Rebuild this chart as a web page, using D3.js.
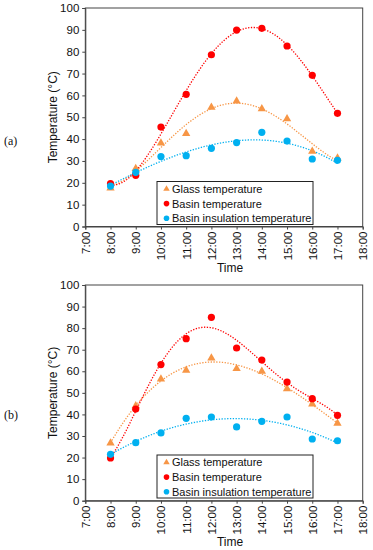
<!DOCTYPE html>
<html>
<head>
<meta charset="utf-8">
<script src="https://cdn.jsdelivr.net/npm/d3@7"></script>
<style>
  body { margin: 0; background: #fff; }
  svg { display: block; }
</style>
</head>
<body>
<div id="chart"></div>
<script>
// hours on the x axis
var hours = [8, 9, 10, 11, 12, 13, 14, 15, 16, 17];
var xTicks = [7, 8, 9, 10, 11, 12, 13, 14, 15, 16, 17, 18];
var yTicks = [0, 10, 20, 30, 40, 50, 60, 70, 80, 90, 100];

// panel (a)
var glassA = [17.6, 26.5, 38.2, 42.5, 54.5, 57.4, 53.9, 49.3, 34.4, 31.3];
var basinA = [19.6, 23.4, 45.5, 60.5, 78.6, 89.9, 90.7, 82.6, 69.2, 51.8];
var insulA = [18.5, 24.8, 32.0, 32.4, 35.8, 38.4, 43.1, 39.1, 30.9, 30.3];

// panel (b)
var glassB = [26.7, 44.0, 56.4, 60.4, 66.1, 61.2, 60.0, 51.9, 44.8, 35.9];
var basinB = [19.8, 42.5, 63.1, 75.1, 85.0, 70.8, 65.2, 55.0, 47.3, 39.6];
var insulB = [21.5, 26.9, 31.4, 38.2, 38.8, 34.2, 36.8, 38.8, 28.6, 27.8];

var seriesNames = ["Glass temperature", "Basin temperature", "Basin insulation temperature"];
var colors = ["#F79646", "#FF0000", "#00B0F0"];

var W = 373, H = 550;
var svg = d3.select("#chart").append("svg")
    .attr("width", W).attr("height", H);

// least squares polynomial fit (like an Excel trendline)
function polyfit(xs, ys, order) {
    var n = order + 1;
    var A = [], b = [];
    for (var i = 0; i < n; i++) {
        A.push(new Array(n).fill(0));
        b.push(0);
    }
    xs.forEach(function(x, k) {
        var t = x - 12;
        for (var i = 0; i < n; i++) {
            for (var j = 0; j < n; j++) A[i][j] += Math.pow(t, i + j);
            b[i] += ys[k] * Math.pow(t, i);
        }
    });
    // gaussian elimination
    for (var c = 0; c < n; c++) {
        var p = c;
        for (var r = c + 1; r < n; r++) if (Math.abs(A[r][c]) > Math.abs(A[p][c])) p = r;
        var tmp = A[c]; A[c] = A[p]; A[p] = tmp;
        var tb = b[c]; b[c] = b[p]; b[p] = tb;
        for (var r = c + 1; r < n; r++) {
            var f = A[r][c] / A[c][c];
            for (var j = c; j < n; j++) A[r][j] -= f * A[c][j];
            b[r] -= f * b[c];
        }
    }
    var coef = new Array(n).fill(0);
    for (var i = n - 1; i >= 0; i--) {
        var s = b[i];
        for (var j = i + 1; j < n; j++) s -= A[i][j] * coef[j];
        coef[i] = s / A[i][i];
    }
    return function(x) {
        var t = x - 12, v = 0;
        for (var i = 0; i < n; i++) v += coef[i] * Math.pow(t, i);
        return v;
    };
}

function drawPanel(top, bottom, label, labelY, series, orders, legendTop) {
    var left = 85.3, right = 362.7;
    var x = d3.scaleLinear().domain([7, 18]).range([left, right]);
    var y = d3.scaleLinear().domain([0, 100]).range([bottom, top]);
    var g = svg.append("g");

    // plot frame
    g.append("rect")
        .attr("x", left).attr("y", top)
        .attr("width", right - left).attr("height", bottom - top)
        .attr("fill", "none").attr("stroke", "#444").attr("stroke-width", 1);

    var xAxis = g.append("g")
        .attr("transform", "translate(0," + bottom + ")")
        .call(d3.axisBottom(x).tickValues(xTicks).tickSize(3)
            .tickFormat(function(d) { return d + ":00"; }));
    xAxis.selectAll("text")
        .attr("transform", "rotate(-90)")
        .attr("x", -5).attr("y", 0).attr("dy", "0.35em")
        .style("text-anchor", "end");

    var yAxis = g.append("g")
        .attr("transform", "translate(" + left + ",0)")
        .call(d3.axisLeft(y).tickValues(yTicks).tickSize(3).tickPadding(3));

    [xAxis, yAxis].forEach(function(a) {
        a.select(".domain").attr("stroke", "#444");
        a.selectAll("line").attr("stroke", "#444");
        a.selectAll("text").attr("font-family", "Liberation Sans, Arial, sans-serif")
            .attr("font-size", 11.5).attr("fill", "#111");
    });

    g.append("text")
        .attr("transform", "translate(57," + ((top + bottom) / 2) + ") rotate(-90)")
        .attr("text-anchor", "middle")
        .attr("font-family", "Liberation Sans, Arial, sans-serif")
        .attr("font-size", 12).attr("fill", "#111")
        .text("Temperature (\u00B0C)");

    g.append("text")
        .attr("x", 230).attr("y", bottom + 45)
        .attr("text-anchor", "middle")
        .attr("font-family", "Liberation Sans, Arial, sans-serif")
        .attr("font-size", 12).attr("fill", "#111")
        .text("Time");

    g.append("text")
        .attr("x", 4).attr("y", labelY)
        .attr("font-family", "Liberation Serif, Times New Roman, serif")
        .attr("font-size", 12).attr("fill", "#111")
        .text(label);

    // trendlines
    var line = d3.line().x(function(d) { return x(d[0]); }).y(function(d) { return y(d[1]); });
    series.forEach(function(vals, i) {
        var f = polyfit(hours, vals, orders[i]);
        var pts = d3.range(8, 17.001, 0.05).map(function(h) { return [h, f(h)]; });
        g.append("path")
            .attr("d", line(pts))
            .attr("fill", "none")
            .attr("stroke", colors[i])
            .attr("stroke-width", 1.3)
            .attr("stroke-dasharray", "1.3,1.5");
    });

    // markers
    var tri = d3.symbol().type(d3.symbolTriangle).size(30);
    series.forEach(function(vals, i) {
        var sel = g.append("g").selectAll("path")
            .data(vals.map(function(v, k) { return [hours[k], v]; }))
            .enter();
        if (i === 0) {
            sel.append("path")
                .attr("d", tri)
                .attr("transform", function(d) { return "translate(" + x(d[0]) + "," + y(d[1]) + ")"; })
                .attr("fill", colors[i]);
        } else {
            sel.append("circle")
                .attr("cx", function(d) { return x(d[0]); })
                .attr("cy", function(d) { return y(d[1]); })
                .attr("r", 3.6)
                .attr("fill", colors[i]);
        }
    });

    // legend
    var lg = g.append("g");
    lg.append("rect")
        .attr("x", 157).attr("y", legendTop)
        .attr("width", 156).attr("height", 43)
        .attr("fill", "#fff").attr("stroke", "#222").attr("stroke-width", 1);
    seriesNames.forEach(function(name, i) {
        var cy = legendTop + 7.5 + i * 14.6;
        if (i === 0) {
            lg.append("path")
                .attr("d", d3.symbol().type(d3.symbolTriangle).size(18))
                .attr("transform", "translate(166.5," + cy + ")")
                .attr("fill", colors[i]);
        } else {
            lg.append("circle").attr("cx", 166.5).attr("cy", cy).attr("r", 2.8).attr("fill", colors[i]);
        }
        lg.append("text")
            .attr("x", 172).attr("y", cy).attr("dy", "0.36em")
            .attr("font-family", "Liberation Sans, Arial, sans-serif")
            .attr("font-size", 11).attr("fill", "#111")
            .text(name);
    });
}

drawPanel(8, 226.5, "(a)", 145, [glassA, basinA, insulA], [4, 4, 3], 181.5);
drawPanel(285, 500.7, "(b)", 419, [glassB, basinB, insulB], [3, 5, 2], 455);
</script>
</body>
</html>
